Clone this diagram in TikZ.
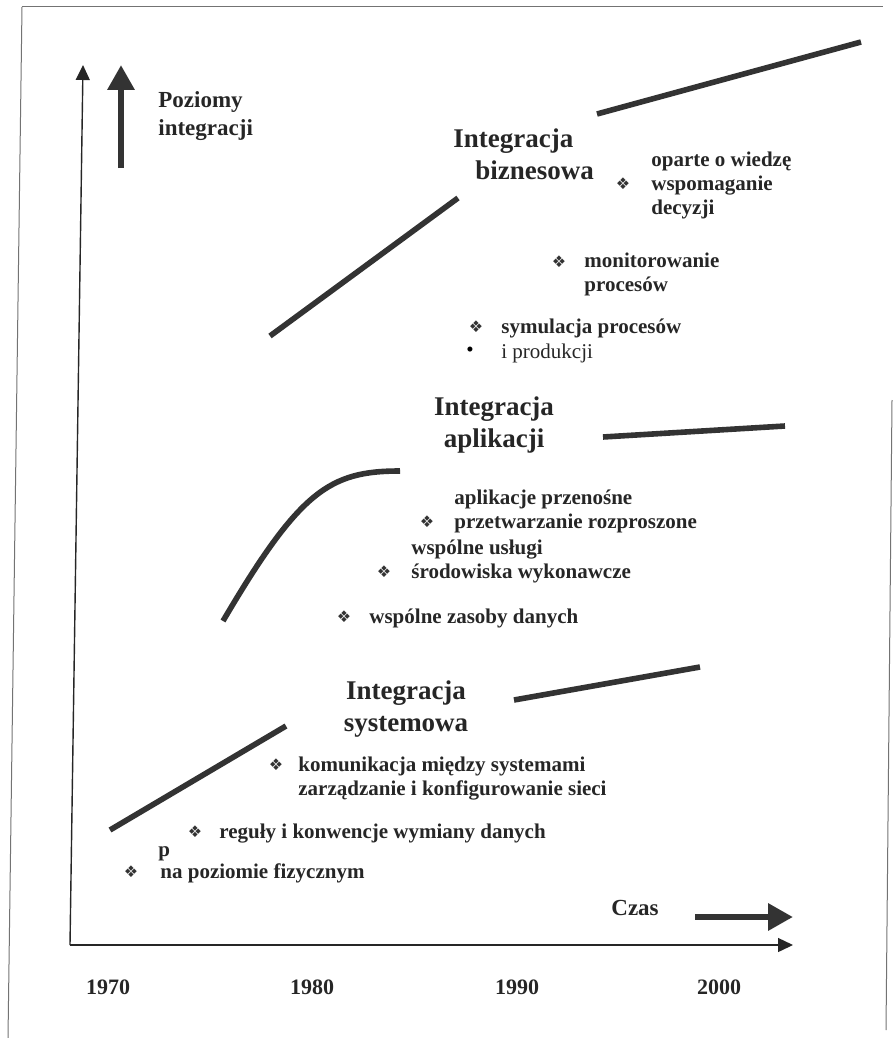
\documentclass[tikz,border=0pt]{standalone}
\usepackage{fontspec}
\setmainfont{Liberation Serif}
\newfontfamily\symfont{DejaVu Sans}
\usetikzlibrary{arrows.meta}
\tikzset{
x=0.5pt, y=-0.5pt, % one unit is one pixel of the scan, y grows downwards
trend/.style={line width=2.8pt, draw=black!80}, % the thick lines of each stage
axis/.style={line width=0.7pt, draw=black!85, -{Triangle[length=7.5pt,width=7pt]}}, % the two axes
bigarrow/.style={line width=3.3pt, draw=black!80, -{Triangle[length=12.5pt,width=13pt]}}, % bold arrows next to the axis labels
frameline/.style={line width=0.5pt, draw=black!55}, % the frame of the page
item/.style={anchor=base west, inner sep=0pt, align=left, text=black!85, font=\bfseries\fontsize{10.5}{11.8}\selectfont}, % anchored at the baseline of the last line
heading/.style={anchor=base, inner sep=0pt, align=center, text=black!85, font=\bfseries\fontsize{13.5}{16}\selectfont},
diamondmark/.style={inner sep=0pt, text=black!80, font=\symfont\fontsize{8}{9}\selectfont},
axislabel/.style={anchor=base west, inner sep=0pt, align=left, text=black!85, font=\bfseries\fontsize{11.5}{13.5}\selectfont},
year/.style={anchor=base, inner sep=0pt, text=black!85, font=\bfseries\fontsize{11}{13}\selectfont},
}
\begin{document}
\begin{tikzpicture}
        \useasboundingbox (0,0) rectangle (893,1038);
        % frame
        \draw[frameline] (22,7) -- (883,7);
        \draw[frameline] (22,7) -- (8,1038);
        \draw[frameline] (892,400) -- (886,1030);

        % axes
        \coordinate (origin) at (70,945);
        \coordinate (ytop) at (83,65);
        \coordinate (xend) at (793,945);
        \draw[axis] (origin) -- (ytop);
        \draw[axis] (origin) -- (xend);

        \coordinate (upfoot) at (121,168);
        \coordinate (uptip) at (121,65);
        \draw[bigarrow] (upfoot) -- (uptip);
        \node[axislabel] (levels) at (158,135) {Poziomy\\integracji};

        \node[axislabel] (time) at (611,915) {Czas};
        \coordinate (timefoot) at (695,917);
        \coordinate (timetip) at (793,917);
        \draw[bigarrow] (timefoot) -- (timetip);

        \foreach \yr/\xx in {1970/108, 1980/312, 1990/517, 2000/719}
          \node[year] (y\yr) at (\xx,994) {\yr};

        % stages
        \draw[trend] (110,830) -- (286,726);
        \draw[trend] (514,700) -- (700,667);
        \draw[trend] (223,621) .. controls (300,490) and (330,471) .. (400,471);
        \draw[trend] (603,437) -- (785,426);
        \draw[trend] (270,336) -- (458,198);
        \draw[trend] (597,114) -- (861,42);

        \node[heading, anchor=base west, align=left] (biz) at (453,179) {Integracja\\\hspace*{11pt}biznesowa};
        \node[heading] (apl) at (494,447) {Integracja\\aplikacji};
        \node[heading] (sys) at (406,731) {Integracja\\systemowa};

        % business
        \node[item] (bizA) at (651,214) {oparte o wiedzę\\wspomaganie\\decyzji};
        \node[diamondmark] (bizAm) at (623,184) {❖};
        \node[item] (bizB) at (584,291) {monitorowanie\\procesów};
        \node[diamondmark] (bizBm) at (559,262) {❖};
        \node[item] (bizC) at (501,333) {symulacja procesów};
        \node[diamondmark] (bizCm) at (476,327) {❖};
        \node[item, font=\fontsize{10.5}{11.8}\selectfont] (bizD) at (501,358) {i produkcji};
        \node[inner sep=0pt, font=\fontsize{10.5}{11.8}\selectfont] (bizDm) at (470,352) {•};

        % applications
        \node[item] (aplA) at (454,528) {aplikacje przenośne\\przetwarzanie rozproszone};
        \node[diamondmark] (aplAm) at (427,522) {❖};
        \node[item] (aplB) at (411,578) {wspólne usługi\\środowiska wykonawcze};
        \node[diamondmark] (aplBm) at (384,572) {❖};
        \node[item] (aplC) at (369,623) {wspólne zasoby danych};
        \node[diamondmark] (aplCm) at (344,617) {❖};

        % systems
        \node[item] (sysA) at (298,795) {komunikacja między systemami\\zarządzanie i konfigurowanie sieci};
        \node[diamondmark] (sysAm) at (276,765) {❖};
        \node[item] (sysB) at (219,838) {reguły i konwencje wymiany danych};
        \node[diamondmark] (sysBm) at (195,832) {❖};
        \node[item] (sysC) at (158,856) {p};
        \node[item] (sysD) at (160,878) {na poziomie fizycznym};
        \node[diamondmark] (sysDm) at (131,872) {❖};
\end{tikzpicture}
\end{document}
